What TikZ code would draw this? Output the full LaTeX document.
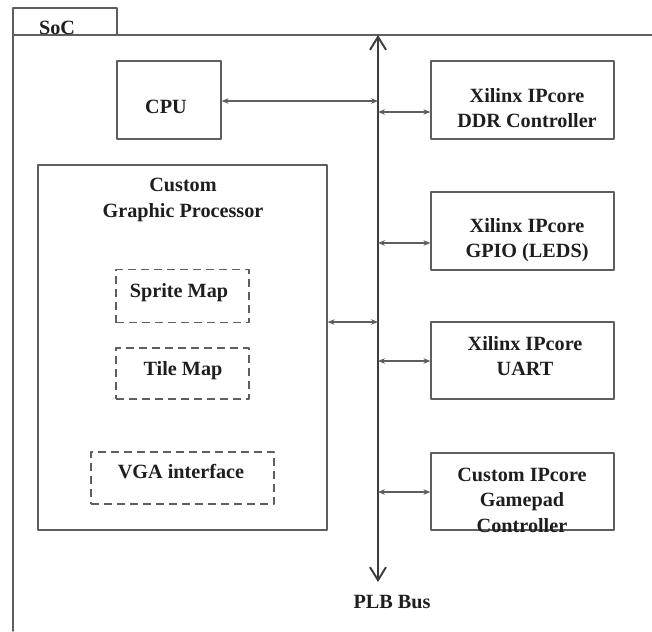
\documentclass[tikz,border=0pt]{standalone}
\usepackage{fontspec}
\setmainfont{Liberation Serif}
\usepackage{tikz}
\usetikzlibrary{arrows.meta,positioning}
\definecolor{frame}{HTML}{5E5E5E}
\definecolor{busgray}{HTML}{3C3C3C}
\definecolor{ink}{HTML}{1E1E1E}
\tikzset{
    every picture/.style={line cap=round,line join=round},
    block/.style={draw=frame,line width=0.7pt,inner sep=0pt,
      minimum width=36.6mm,minimum height=15.6mm},
    subblock/.style={block,dash pattern=on 1.6mm off 1mm,line cap=butt,
      minimum width=26.6mm,minimum height=10.6mm},
    boxtext/.style={text=ink,inner sep=0pt,align=center,
      font=\fontsize{11.5}{14.5}\selectfont\bfseries},
    linkarrow/.style={{Stealth[length=1.4mm,width=1.1mm]}-{Stealth[length=1.4mm,width=1.1mm]},
      draw=frame,line width=0.6pt},
    busarrow/.style={{Straight Barb[length=2.6mm,width=3.2mm]}-{Straight Barb[length=2.6mm,width=3.2mm]},
      draw=busgray,line width=1.1pt}
}
\begin{document}
\begin{tikzpicture}[x=0.2mm,y=-0.2mm]
  \useasboundingbox (0,0) rectangle (652,631);
  % SoC frame with tab
  \draw[frame,line width=0.8pt] (13,631) -- (13,35) -- (652,35);
  \node[block,minimum width=20.8mm,minimum height=5.4mm] (soctab) at (65,21.5) {};
  \node[boxtext,anchor=base] (soc) at (57,34) {SoC};

  % bus
  \coordinate (bustop) at (378,35);
  \coordinate (busbot) at (378,582);
  \draw[busarrow] (busbot) -- (bustop);
  \node[boxtext,anchor=base] (plb) at (392,608) {PLB Bus};

  % CPU
  \node[block,minimum width=20.8mm] (cpu) at (169,100) {};
  \node[boxtext,anchor=base] (cpu-t) at (166,113) {CPU};

  % IP cores on the right
  \node[block] (ddr) at (522.5,100) {};
  \node[boxtext] (ddr-t) at (527,108) {Xilinx IPcore\\DDR Controller};
  \node[block] (gpio) at (522.5,231) {};
  \node[boxtext] (gpio-t) at (527,240) {Xilinx IPcore\\GPIO (LEDS)};
  \node[block,minimum height=15.4mm] (uart) at (522.5,360.5) {};
  \node[boxtext] (uart-t) at (525,356) {Xilinx IPcore\\UART};
  \node[block,minimum height=15.4mm] (pad) at (522.5,491.5) {};
  \node[boxtext] (pad-t) at (522,500) {Custom IPcore\\Gamepad\\Controller};

  % graphic processor
  \node[block,minimum width=57.8mm,minimum height=73mm] (gpu) at (182.5,347.5) {};
  \node[boxtext] (gpu-t) at (183,200) {Custom\\Graphic Processor};
  \node[subblock] (sprite) at (182.5,296) {};
  \node[boxtext,anchor=base] (sprite-t) at (179,297) {Sprite Map};
  \node[subblock,minimum height=10.2mm] (tile) at (182.5,373.5) {};
  \node[boxtext,anchor=base] (tile-t) at (183,375) {Tile Map};
  \node[subblock,minimum width=36.6mm,minimum height=10.4mm] (vga) at (182.5,478) {};
  \node[boxtext,anchor=base] (vga-t) at (181,478) {VGA interface};

  % links to the bus
  \coordinate (b-cpu) at (378,101);
  \coordinate (b-ddr) at (378,112);
  \coordinate (b-gpio) at (378,243);
  \coordinate (b-gpu) at (378,322);
  \coordinate (b-uart) at (378,361);
  \coordinate (b-pad) at (378,492);
  \draw[linkarrow] (b-cpu -| cpu.east) -- (b-cpu);
  \draw[linkarrow] (b-ddr) -- (b-ddr -| ddr.west);
  \draw[linkarrow] (b-gpio) -- (b-gpio -| gpio.west);
  \draw[linkarrow] (b-gpu -| gpu.east) -- (b-gpu);
  \draw[linkarrow] (b-uart) -- (b-uart -| uart.west);
  \draw[linkarrow] (b-pad) -- (b-pad -| pad.west);
\end{tikzpicture}
\end{document}
